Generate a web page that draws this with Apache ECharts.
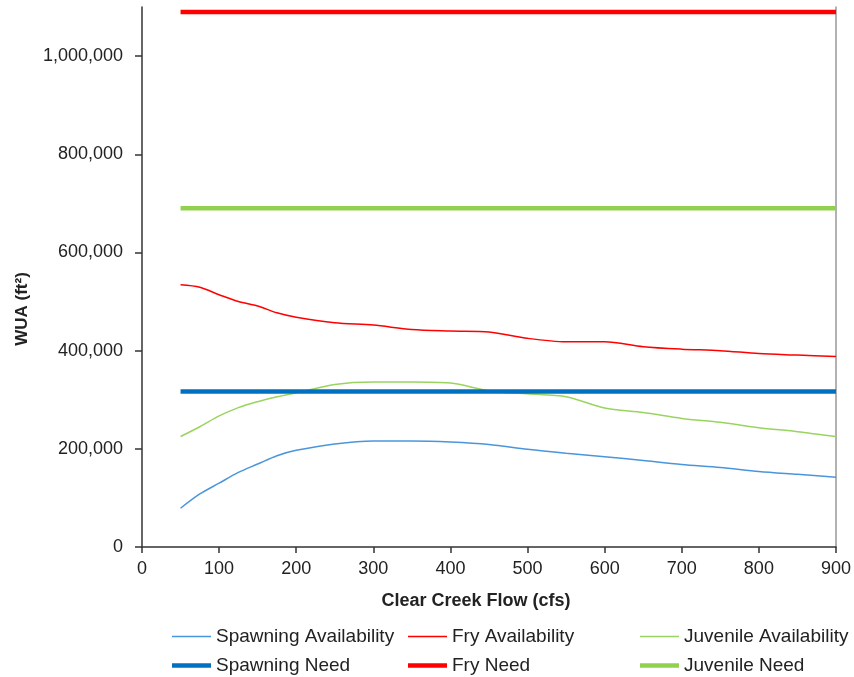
<!DOCTYPE html>
<html>
<head>
<meta charset="utf-8">
<script src="https://cdn.jsdelivr.net/npm/echarts@6/dist/echarts.min.js"></script>
<style>html,body{margin:0;padding:0;background:#fff}#c{width:854px;height:677px}</style>
</head>
<body>
<div id="c"></div>
<script>
const flows = [50,75,100,125,150,175,200,250,300,350,400,450,500,550,600,650,700,750,800,850,900];
const spawningAvailability = [79000,108000,130000,152000,169000,186000,197000,210000,216000,216000,214000,209000,199000,191000,184000,176000,168000,162000,154000,148000,142000];
const fryAvailability = [534000,529000,514000,500000,491000,477000,468000,457000,452000,443000,440000,438000,425000,418000,418000,408000,403000,400000,394000,391000,388000];
const juvenileAvailability = [225000,245000,267000,284000,296000,306000,314000,331000,336000,336000,334000,318000,312000,306000,283000,274000,262000,254000,243000,235000,225000];
const needFlows = [50, 900];
const spawningNeed = 317000;
const fryNeed = 1090000;
const juvenileNeed = 690000;
const xTicks = [0,100,200,300,400,500,600,700,800,900];
const yTicks = [0,200000,400000,600000,800000,1000000];

const pairs = (xs, ys) => xs.map((x, i) => [x, ys[i]]);
const flat = (v) => needFlows.map(x => [x, v]);

const FONT = 'Liberation Sans, Arial, sans-serif';
const C_SPAWN_A = '#4a96dc', C_SPAWN_N = '#0070c0';
const C_FRY = '#ff0000';
const C_JUV_A = '#9ad460', C_JUV_N = '#92d050';
const THIN = 1.5, THICK = 4.5;

function lineSeries(name, data, color, width, smooth) {
  return { name, type: 'line', data, symbol: 'none', showSymbol: false, smooth: smooth, silent: true,
    lineStyle: { color, width }, itemStyle: { color } };
}

const legendBase = { orient: 'horizontal', itemWidth: 39, itemGap: 0, icon: 'rect', padding: 0,
  selectedMode: false, textStyle: { fontFamily: FONT, fontSize: 19, color: '#222' } };
const legendPos = [
  ['Spawning Availability', 172, 627, THIN], ['Fry Availability', 408, 627, THIN], ['Juvenile Availability', 640, 627, THIN],
  ['Spawning Need', 172, 656, THICK], ['Fry Need', 408, 656, THICK], ['Juvenile Need', 640, 656, THICK]
];

const chart = echarts.init(document.getElementById('c'), null, { renderer: 'canvas' });
chart.setOption({
  animation: false,
  backgroundColor: '#fff',
  grid: { left: 142, right: 17, top: 7, bottom: 130, containLabel: false },
  xAxis: {
    type: 'value', min: 0, max: 900, interval: 100,
    axisLine: { show: true, lineStyle: { color: '#333', width: 1.5 } },
    axisTick: { show: true, length: 6, lineStyle: { color: '#333', width: 1.5 } },
    axisLabel: { margin: 13, fontFamily: FONT, fontSize: 18, color: '#222',
      customValues: xTicks },
    splitLine: { show: false }
  },
  yAxis: [{
    type: 'value', min: 0, max: 1100000,
    axisLine: { show: true, lineStyle: { color: '#333', width: 1.5 } },
    axisTick: { show: true, length: 7, inside: false, customValues: yTicks, lineStyle: { color: '#333', width: 1.5 } },
    axisLabel: { margin: 19, fontFamily: FONT, fontSize: 18, color: '#222', customValues: yTicks,
      formatter: v => v.toLocaleString('en-US') },
    splitLine: { show: false }
  }, {
    type: 'value', min: 0, max: 1100000, position: 'right',
    axisLine: { show: true, lineStyle: { color: '#999', width: 1.5 } },
    axisTick: { show: false }, axisLabel: { show: false }, splitLine: { show: false }
  }],
  legend: legendPos.map(([n, l, t, h]) => Object.assign({}, legendBase, { data: [n], left: l, top: t, itemHeight: h,
    height: 20 })),
  graphic: [
    { type: 'text', x: 476, y: 601, style: { text: 'Clear Creek Flow (cfs)', font: 'bold 18px ' + FONT,
        fill: '#222', textAlign: 'center', textVerticalAlign: 'middle' } },
    { type: 'text', x: 22, y: 309, rotation: Math.PI / 2, style: { text: 'WUA (ft²)', font: 'bold 17px ' + FONT,
        fill: '#222', textAlign: 'center', textVerticalAlign: 'middle' } }
  ],
  series: [
    lineSeries('Spawning Availability', pairs(flows, spawningAvailability), C_SPAWN_A, THIN, 0.3),
    lineSeries('Fry Availability', pairs(flows, fryAvailability), C_FRY, THIN, 0.3),
    lineSeries('Juvenile Availability', pairs(flows, juvenileAvailability), C_JUV_A, THIN, 0.3),
    lineSeries('Spawning Need', flat(spawningNeed), C_SPAWN_N, THICK, false),
    lineSeries('Fry Need', flat(fryNeed), C_FRY, THICK, false),
    lineSeries('Juvenile Need', flat(juvenileNeed), C_JUV_N, THICK, false)
  ]
});
</script>
</body>
</html>
